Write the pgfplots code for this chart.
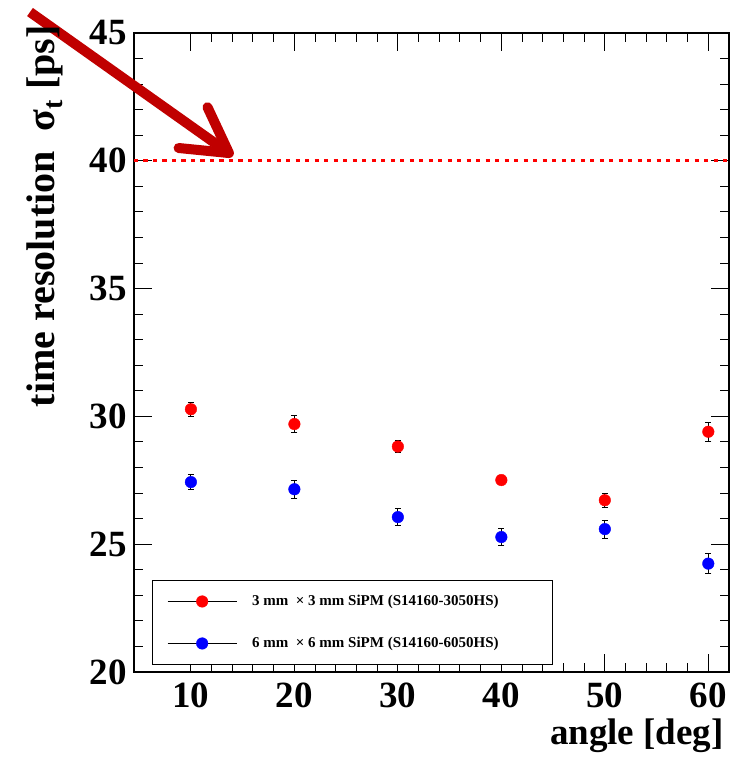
\documentclass[border=0pt]{standalone}
\usepackage{pgfplots}
\pgfplotsset{compat=1.18}
\usepackage{fontspec}
\setmainfont{Liberation Serif}
\usetikzlibrary{arrows.meta}
\definecolor{arrowred}{RGB}{192,0,0}
\pgfplotstableread{
x    r      re    b      be
10   30.28  0.28  27.43  0.29
20   29.70  0.32  27.15  0.35
30   28.82  0.24  26.06  0.34
40   27.51  0.19  25.28  0.34
50   26.72  0.27  25.59  0.35
60   29.40  0.37  24.24  0.38
}\datatable

\begin{document}
\begin{tikzpicture}
\useasboundingbox (-134pt,-88pt) rectangle (602pt,672pt);
\begin{axis}[
  scale only axis, width=595pt, height=639pt,
  at={(0pt,0pt)}, anchor=south west,
  clip=false,
  xmin=4.5, xmax=62, ymin=20, ymax=45,
  xtick={10,20,...,60}, ytick={20,25,...,45},
  minor x tick num=4, minor y tick num=4,
  tick align=inside, xtick pos=both, ytick pos=both,
  xticklabel pos=left, yticklabel pos=left,
  major tick length=18pt, minor tick length=9pt,
  tick style={black, line width=1pt},
  axis line style={line width=1.2pt},
  /pgf/number format/assume math mode=true,
  tick label style={font=\fontsize{37}{40}\selectfont\bfseries, inner sep=0pt},
  xticklabel style={anchor=north, yshift=-11pt},
  yticklabel style={anchor=east, xshift=-7pt},
  xlabel={angle [deg]},
  xlabel style={at={(axis description cs:1,0)}, anchor=base east, inner sep=0pt,
    font=\fontsize{37}{42}\selectfont\bfseries, yshift=-72pt, xshift=-5pt},
  ylabel={time resolution\ \ σ\textsubscript{t} [ps]},
  ylabel style={at={(axis description cs:-0.1328,1.0125)}, anchor=base east, inner sep=0pt,
    font=\fontsize{40}{44}\selectfont\bfseries},
  legend style={at={(axis description cs:0.0297,0.011)}, anchor=south west,
    draw=black, line width=1pt, fill=white,
    inner xsep=15pt, inner ysep=14pt, row sep=28pt,
    font=\fontsize{15}{17}\selectfont\bfseries,
    /tikz/every odd column/.append style={column sep=15pt},
    nodes={inner sep=0pt, text height=11pt, text depth=3pt}},
  legend cell align=left,
  legend image code/.code={
    \draw[black, line width=1pt] (0pt,0pt) -- (69pt,0pt);
    \draw[#1, mark repeat=2, mark phase=2] plot coordinates {(0pt,0pt) (34.5pt,0pt) (69pt,0pt)};
  },
  ebar/.style={draw=none, mark=none, forget plot,
    error bars/.cd, y dir=both, y explicit,
    error bar style={draw=black, line width=1pt},
    error mark options={rotate=90, draw=black, mark size=3pt, line width=1pt}},
]
\addplot[red, line width=3.3pt, dash pattern=on 4.3pt off 5.2pt, forget plot]
  coordinates {(4.5,40) (62,40)};

\addplot[only marks, mark=*, mark size=5.8pt, color=red,
  mark options={fill=red, draw=red, line width=0.4pt}]
  table[x=x, y=r] {\datatable};
\addlegendentry{3 mm\ \ × 3 mm SiPM (S14160-3050HS)\hspace*{39pt}}

\addplot[only marks, mark=*, mark size=5.8pt, color=blue,
  mark options={fill=blue, draw=blue, line width=0.4pt}]
  table[x=x, y=b] {\datatable};
\addlegendentry{6 mm\ \ × 6 mm SiPM (S14160-6050HS)\hspace*{39pt}}

\addplot[ebar] table[x=x, y=r, y error=re] {\datatable};
\addplot[ebar] table[x=x, y=b, y error=be] {\datatable};

\draw[arrowred, line width=10pt, -{Straight Barb[length=44pt, width=50pt, round]}]
  (axis cs:-5.55,45.82) -- (axis cs:14.07,40.19);
\end{axis}
\end{tikzpicture}
\end{document}
